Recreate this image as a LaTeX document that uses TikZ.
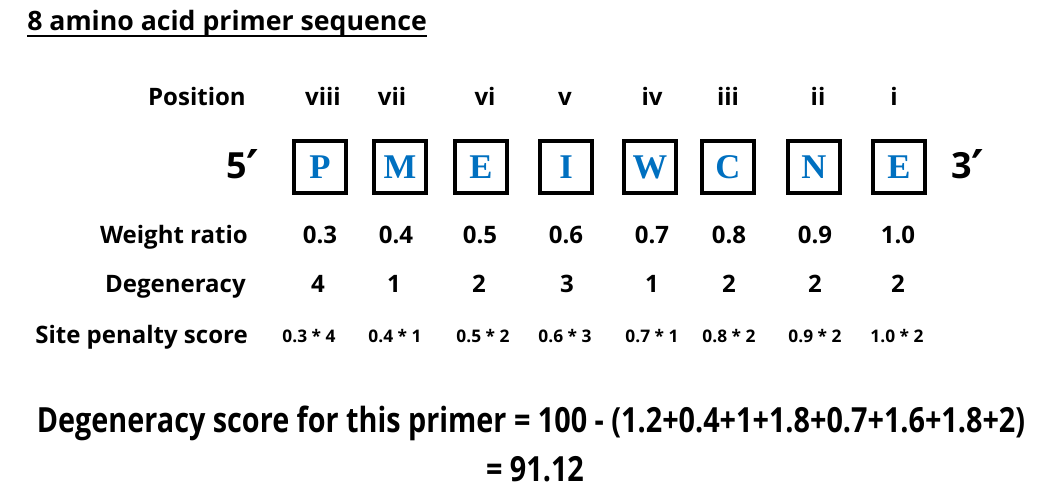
\documentclass[tikz,border=0pt]{standalone}
\usepackage{fontspec}
\setmainfont{Open Sans}
\newfontfamily\eqfont{Open Sans}[FakeStretch=0.83]
\newfontfamily\serifb{Liberation Serif}
\newfontfamily\dvs{DejaVu Sans}
\newcommand{\primemark}{\raisebox{-4.5pt}{\dvs\bfseries\fontsize{36}{40}\selectfont ′}}
\definecolor{aablue}{HTML}{0070C0}
\begin{document}
\begin{tikzpicture}[x=0.75pt,y=-0.75pt,
  lab/.style={anchor=base east,inner sep=0pt,font=\bfseries\fontsize{18}{20}\selectfont},
  val/.style={anchor=base,inner sep=0pt,font=\bfseries\fontsize{18}{20}\selectfont},
  sval/.style={anchor=base,inner sep=0pt,font=\bfseries\fontsize{13}{15}\selectfont},
  aabox/.style={draw,line width=3pt,minimum size=39pt,inner sep=0pt,
     font=\serifb\bfseries\fontsize{26}{28}\selectfont,text=aablue},
  prime/.style={anchor=base,inner sep=0pt,font=\bfseries\fontsize{27}{30}\selectfont},
  eq/.style={anchor=base,inner sep=0pt,font=\eqfont\bfseries\fontsize{26}{30}\selectfont}]
\useasboundingbox (0,0) rectangle (1047,495);
% title
\node[anchor=base west,inner sep=0pt,font=\bfseries\fontsize{20}{24}\selectfont] (title) at (27,31) {8 amino acid primer sequence};
\draw[line width=1.5pt] (title.base west) ++(0,5) coordinate (ul1) -- (title.base east |- ul1) coordinate (ul2);
% row labels
\node[lab] (lpos) at (246,106) {Position};
\node[lab] (lwr) at (248,244) {Weight ratio};
\node[lab] (ldeg) at (246,293) {Degeneracy};
\node[lab] (lsite) at (248,344) {Site penalty score};
% positions
\foreach \x/\t [count=\i] in {323/viii,392/vii,485/vi,565/v,652/iv,728/iii,818/ii,894/i}
  \node[val] (pos\i) at (\x,106) {\t};
% boxes
\foreach \x/\t [count=\i] in {320/P,400/M,481/E,566/I,650/W,728/C,814/N,899/E}
  \node[aabox] (aa\i) at (\x,167) {\t};
\node[prime] (five) at (243,179) {5\primemark};
\node[prime] (three) at (968,179) {3\primemark};
% weight ratio
\foreach \x/\t [count=\i] in {320/0.3,396/0.4,480/0.5,566/0.6,652/0.7,729/0.8,815/0.9,898/1.0}
  \node[val] (w\i) at (\x,244) {\t};
% degeneracy
\foreach \x/\t [count=\i] in {318/4,394/1,479/2,567/3,652/1,729/2,815/2,898/2}
  \node[val] (d\i) at (\x,293) {\t};
% site penalty
\foreach \x/\t [count=\i] in {309/{0.3 * 4},395/{0.4 * 1},483/{0.5 * 2},565/{0.6 * 3},652/{0.7 * 1},729/{0.8 * 2},815/{0.9 * 2},897/{1.0 * 2}}
  \node[sval] (s\i) at (\x,343) {\t};
% equation
\node[eq] (eq1) at (531,433) {Degeneracy score for this primer = 100 - (1.2+0.4+1+1.8+0.7+1.6+1.8+2)};
\node[eq] (eq2) at (535,481) {= 91.12};
\end{tikzpicture}
\end{document}
